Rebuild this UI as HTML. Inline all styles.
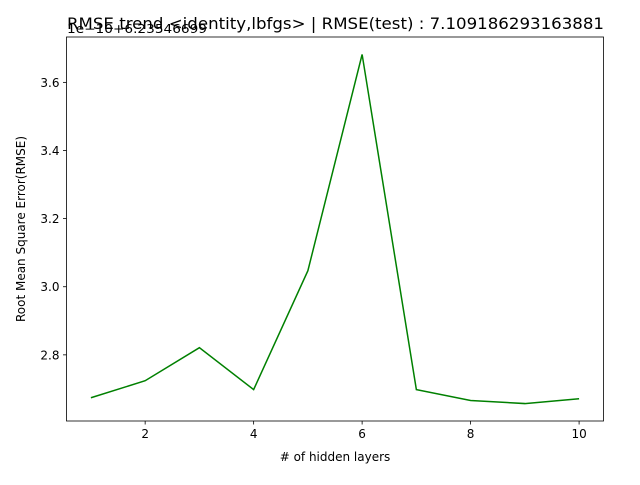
<!DOCTYPE html>
<html><head><meta charset="utf-8"><style>
body{margin:0;background:#fff;}
svg text{font-family:"DejaVu Sans","Liberation Sans",sans-serif;fill:#000;}
</style></head><body>
<svg id="chart" width="640" height="480">
<rect width="640" height="480" fill="#fff"/>
<text x="67" y="29" font-size="16" textLength="537" lengthAdjust="spacingAndGlyphs">RMSE trend &lt;identity,lbfgs&gt; | RMSE(test) : 7.109186293163881</text>
<text x="67" y="33" font-size="12" textLength="140" lengthAdjust="spacingAndGlyphs">1e−10+6.23546699</text>
<g id="axes"></g>
<rect x="66.5" y="37" width="537" height="384" fill="none" stroke="#000" stroke-width="0.8"/>
<text x="335" y="461" font-size="12" text-anchor="middle"># of hidden layers</text>
<text transform="translate(25,229) rotate(-90)" font-size="12" text-anchor="middle">Root Mean Square Error(RMSE)</text>
</svg>
<script>
const layers=[1,2,3,4,5,6,7,8,9,10];
const rmse=[2.674,2.724,2.821,2.698,3.047,3.682,2.698,2.666,2.657,2.671];
const xTicks=[2,4,6,8,10];
const yTicks=[2.8,3.0,3.2,3.4,3.6];
const L=66.5,R=603.5,T=37,B=421;
const x0=0.55,x1=10.45,y0=2.6058,y1=3.7332;
const sx=v=>L+(v-x0)/(x1-x0)*(R-L);
const sy=v=>B-(v-y0)/(y1-y0)*(B-T);
const g=document.getElementById('axes');
const NS='http://www.w3.org/2000/svg';
function mk(t,a){const e=document.createElementNS(NS,t);for(const k in a)e.setAttribute(k,a[k]);g.appendChild(e);return e;}
xTicks.forEach(v=>{
const l=mk('line',{x1:sx(v),x2:sx(v),y1:B,y2:B+3.5,stroke:'#000','stroke-width':0.8});


const t=mk('text',{x:sx(v),y:B+17,'font-size':12,'text-anchor':'middle'});t.textContent=v;


});
yTicks.forEach(v=>{
const l=mk('line',{x1:L-3.5,x2:L,y1:sy(v),y2:sy(v),stroke:'#000','stroke-width':0.8});


const t=mk('text',{x:L-7,y:sy(v)+4.5,'font-size':12,'text-anchor':'end'});t.textContent=v.toFixed(1);


});
const p=mk('polyline',{points:layers.map((v,i)=>sx(v)+','+sy(rmse[i])).join(' '),fill:'none',stroke:'#008000','stroke-width':1.5});


</script>
</body></html>
